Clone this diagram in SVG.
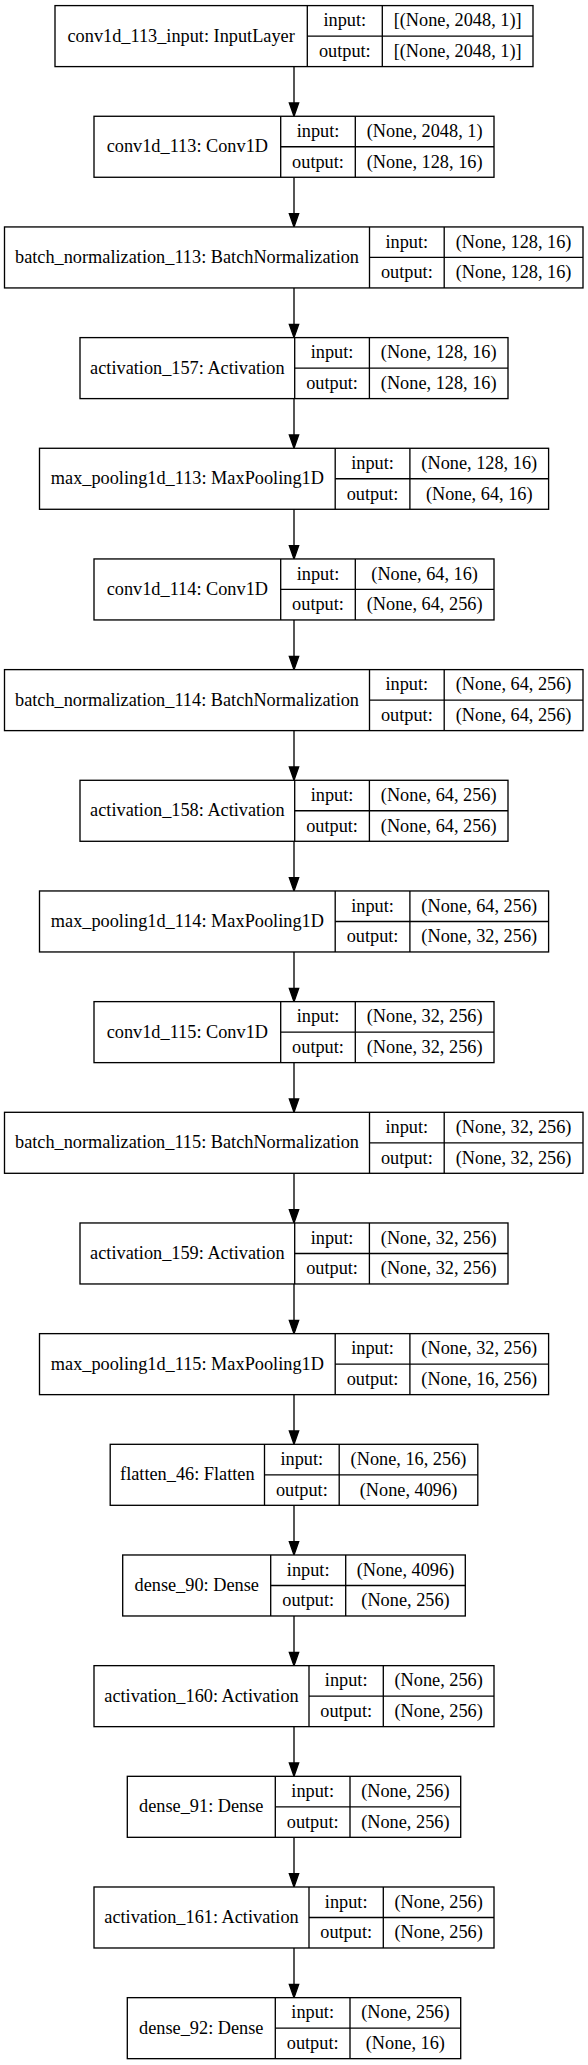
<svg xmlns="http://www.w3.org/2000/svg" width="588" height="2065" viewBox="0 0 588 2065" font-family="Liberation Serif, Times New Roman, serif">
<style>
rect.b{fill:#fff;stroke:#000;stroke-width:1.33}
line.s{stroke:#000;stroke-width:1.33}
text{font-family:'Liberation Serif','Times New Roman',serif;font-size:18.3px;fill:#000;text-anchor:middle}
.e line{stroke:#000;stroke-width:1.33}
.e polygon{fill:#000;stroke:#000;stroke-width:1.33}
</style>
<rect width="588" height="2065" fill="#fff"/>
<g id="edges" class="e">
<line x1="294" y1="66.6" x2="294" y2="102.97"/><polygon points="289.33,102.97 298.67,102.97 294,116.27"/>
<line x1="294" y1="177.27" x2="294" y2="213.64"/><polygon points="289.33,213.64 298.67,213.64 294,226.94"/>
<line x1="294" y1="287.94" x2="294" y2="324.31"/><polygon points="289.33,324.31 298.67,324.31 294,337.61"/>
<line x1="294" y1="398.61" x2="294" y2="434.98"/><polygon points="289.33,434.98 298.67,434.98 294,448.28"/>
<line x1="294" y1="509.28" x2="294" y2="545.65"/><polygon points="289.33,545.65 298.67,545.65 294,558.95"/>
<line x1="294" y1="619.95" x2="294" y2="656.32"/><polygon points="289.33,656.32 298.67,656.32 294,669.62"/>
<line x1="294" y1="730.62" x2="294" y2="766.99"/><polygon points="289.33,766.99 298.67,766.99 294,780.29"/>
<line x1="294" y1="841.29" x2="294" y2="877.66"/><polygon points="289.33,877.66 298.67,877.66 294,890.96"/>
<line x1="294" y1="951.96" x2="294" y2="988.33"/><polygon points="289.33,988.33 298.67,988.33 294,1001.63"/>
<line x1="294" y1="1062.63" x2="294" y2="1099"/><polygon points="289.33,1099 298.67,1099 294,1112.3"/>
<line x1="294" y1="1173.3" x2="294" y2="1209.67"/><polygon points="289.33,1209.67 298.67,1209.67 294,1222.97"/>
<line x1="294" y1="1283.97" x2="294" y2="1320.34"/><polygon points="289.33,1320.34 298.67,1320.34 294,1333.64"/>
<line x1="294" y1="1394.64" x2="294" y2="1431.01"/><polygon points="289.33,1431.01 298.67,1431.01 294,1444.31"/>
<line x1="294" y1="1505.31" x2="294" y2="1541.68"/><polygon points="289.33,1541.68 298.67,1541.68 294,1554.98"/>
<line x1="294" y1="1615.98" x2="294" y2="1652.35"/><polygon points="289.33,1652.35 298.67,1652.35 294,1665.65"/>
<line x1="294" y1="1726.65" x2="294" y2="1763.02"/><polygon points="289.33,1763.02 298.67,1763.02 294,1776.32"/>
<line x1="294" y1="1837.32" x2="294" y2="1873.69"/><polygon points="289.33,1873.69 298.67,1873.69 294,1886.99"/>
<line x1="294" y1="1947.99" x2="294" y2="1984.36"/><polygon points="289.33,1984.36 298.67,1984.36 294,1997.66"/>
</g>
<g id="n0" transform="translate(0,5.6)">
<rect class="b" x="55" y="0" width="478" height="61"/>
<line class="s" x1="307.3" y1="0" x2="307.3" y2="61"/><line class="s" x1="382.3" y1="0" x2="382.3" y2="61"/><line class="s" x1="307.3" y1="30.5" x2="533" y2="30.5"/>
<text x="181.15" y="36">conv1d_113_input: InputLayer</text>
<text x="344.8" y="20.8">input:</text><text x="344.8" y="51.3">output:</text>
<text x="457.65" y="20.8">[(None, 2048, 1)]</text><text x="457.65" y="51.3">[(None, 2048, 1)]</text>
</g>
<g id="n1" transform="translate(0,116.27)">
<rect class="b" x="94" y="0" width="400" height="61"/>
<line class="s" x1="280.7" y1="0" x2="280.7" y2="61"/><line class="s" x1="355.3" y1="0" x2="355.3" y2="61"/><line class="s" x1="280.7" y1="30.5" x2="494" y2="30.5"/>
<text x="187.35" y="36">conv1d_113: Conv1D</text>
<text x="318" y="20.8">input:</text><text x="318" y="51.3">output:</text>
<text x="424.65" y="20.8">(None, 2048, 1)</text><text x="424.65" y="51.3">(None, 128, 16)</text>
</g>
<g id="n2" transform="translate(0,226.94)">
<rect class="b" x="4.5" y="0" width="578.5" height="61"/>
<line class="s" x1="369.5" y1="0" x2="369.5" y2="61"/><line class="s" x1="444.2" y1="0" x2="444.2" y2="61"/><line class="s" x1="369.5" y1="30.5" x2="583" y2="30.5"/>
<text x="187" y="36">batch_normalization_113: BatchNormalization</text>
<text x="406.85" y="20.8">input:</text><text x="406.85" y="51.3">output:</text>
<text x="513.6" y="20.8">(None, 128, 16)</text><text x="513.6" y="51.3">(None, 128, 16)</text>
</g>
<g id="n3" transform="translate(0,337.61)">
<rect class="b" x="80" y="0" width="428" height="61"/>
<line class="s" x1="294.7" y1="0" x2="294.7" y2="61"/><line class="s" x1="369.4" y1="0" x2="369.4" y2="61"/><line class="s" x1="294.7" y1="30.5" x2="508" y2="30.5"/>
<text x="187.35" y="36">activation_157: Activation</text>
<text x="332.05" y="20.8">input:</text><text x="332.05" y="51.3">output:</text>
<text x="438.7" y="20.8">(None, 128, 16)</text><text x="438.7" y="51.3">(None, 128, 16)</text>
</g>
<g id="n4" transform="translate(0,448.28)">
<rect class="b" x="39.5" y="0" width="509.1" height="61"/>
<line class="s" x1="335.2" y1="0" x2="335.2" y2="61"/><line class="s" x1="409.9" y1="0" x2="409.9" y2="61"/><line class="s" x1="335.2" y1="30.5" x2="548.6" y2="30.5"/>
<text x="187.35" y="36">max_pooling1d_113: MaxPooling1D</text>
<text x="372.55" y="20.8">input:</text><text x="372.55" y="51.3">output:</text>
<text x="479.25" y="20.8">(None, 128, 16)</text><text x="479.25" y="51.3">(None, 64, 16)</text>
</g>
<g id="n5" transform="translate(0,558.95)">
<rect class="b" x="94" y="0" width="400" height="61"/>
<line class="s" x1="280.7" y1="0" x2="280.7" y2="61"/><line class="s" x1="355.3" y1="0" x2="355.3" y2="61"/><line class="s" x1="280.7" y1="30.5" x2="494" y2="30.5"/>
<text x="187.35" y="36">conv1d_114: Conv1D</text>
<text x="318" y="20.8">input:</text><text x="318" y="51.3">output:</text>
<text x="424.65" y="20.8">(None, 64, 16)</text><text x="424.65" y="51.3">(None, 64, 256)</text>
</g>
<g id="n6" transform="translate(0,669.62)">
<rect class="b" x="4.5" y="0" width="578.5" height="61"/>
<line class="s" x1="369.5" y1="0" x2="369.5" y2="61"/><line class="s" x1="444.2" y1="0" x2="444.2" y2="61"/><line class="s" x1="369.5" y1="30.5" x2="583" y2="30.5"/>
<text x="187" y="36">batch_normalization_114: BatchNormalization</text>
<text x="406.85" y="20.8">input:</text><text x="406.85" y="51.3">output:</text>
<text x="513.6" y="20.8">(None, 64, 256)</text><text x="513.6" y="51.3">(None, 64, 256)</text>
</g>
<g id="n7" transform="translate(0,780.29)">
<rect class="b" x="80" y="0" width="428" height="61"/>
<line class="s" x1="294.7" y1="0" x2="294.7" y2="61"/><line class="s" x1="369.4" y1="0" x2="369.4" y2="61"/><line class="s" x1="294.7" y1="30.5" x2="508" y2="30.5"/>
<text x="187.35" y="36">activation_158: Activation</text>
<text x="332.05" y="20.8">input:</text><text x="332.05" y="51.3">output:</text>
<text x="438.7" y="20.8">(None, 64, 256)</text><text x="438.7" y="51.3">(None, 64, 256)</text>
</g>
<g id="n8" transform="translate(0,890.96)">
<rect class="b" x="39.5" y="0" width="509.1" height="61"/>
<line class="s" x1="335.2" y1="0" x2="335.2" y2="61"/><line class="s" x1="409.9" y1="0" x2="409.9" y2="61"/><line class="s" x1="335.2" y1="30.5" x2="548.6" y2="30.5"/>
<text x="187.35" y="36">max_pooling1d_114: MaxPooling1D</text>
<text x="372.55" y="20.8">input:</text><text x="372.55" y="51.3">output:</text>
<text x="479.25" y="20.8">(None, 64, 256)</text><text x="479.25" y="51.3">(None, 32, 256)</text>
</g>
<g id="n9" transform="translate(0,1001.63)">
<rect class="b" x="94" y="0" width="400" height="61"/>
<line class="s" x1="280.7" y1="0" x2="280.7" y2="61"/><line class="s" x1="355.3" y1="0" x2="355.3" y2="61"/><line class="s" x1="280.7" y1="30.5" x2="494" y2="30.5"/>
<text x="187.35" y="36">conv1d_115: Conv1D</text>
<text x="318" y="20.8">input:</text><text x="318" y="51.3">output:</text>
<text x="424.65" y="20.8">(None, 32, 256)</text><text x="424.65" y="51.3">(None, 32, 256)</text>
</g>
<g id="n10" transform="translate(0,1112.3)">
<rect class="b" x="4.5" y="0" width="578.5" height="61"/>
<line class="s" x1="369.5" y1="0" x2="369.5" y2="61"/><line class="s" x1="444.2" y1="0" x2="444.2" y2="61"/><line class="s" x1="369.5" y1="30.5" x2="583" y2="30.5"/>
<text x="187" y="36">batch_normalization_115: BatchNormalization</text>
<text x="406.85" y="20.8">input:</text><text x="406.85" y="51.3">output:</text>
<text x="513.6" y="20.8">(None, 32, 256)</text><text x="513.6" y="51.3">(None, 32, 256)</text>
</g>
<g id="n11" transform="translate(0,1222.97)">
<rect class="b" x="80" y="0" width="428" height="61"/>
<line class="s" x1="294.7" y1="0" x2="294.7" y2="61"/><line class="s" x1="369.4" y1="0" x2="369.4" y2="61"/><line class="s" x1="294.7" y1="30.5" x2="508" y2="30.5"/>
<text x="187.35" y="36">activation_159: Activation</text>
<text x="332.05" y="20.8">input:</text><text x="332.05" y="51.3">output:</text>
<text x="438.7" y="20.8">(None, 32, 256)</text><text x="438.7" y="51.3">(None, 32, 256)</text>
</g>
<g id="n12" transform="translate(0,1333.64)">
<rect class="b" x="39.5" y="0" width="509.1" height="61"/>
<line class="s" x1="335.2" y1="0" x2="335.2" y2="61"/><line class="s" x1="409.9" y1="0" x2="409.9" y2="61"/><line class="s" x1="335.2" y1="30.5" x2="548.6" y2="30.5"/>
<text x="187.35" y="36">max_pooling1d_115: MaxPooling1D</text>
<text x="372.55" y="20.8">input:</text><text x="372.55" y="51.3">output:</text>
<text x="479.25" y="20.8">(None, 32, 256)</text><text x="479.25" y="51.3">(None, 16, 256)</text>
</g>
<g id="n13" transform="translate(0,1444.31)">
<rect class="b" x="110.2" y="0" width="367.6" height="61"/>
<line class="s" x1="264.5" y1="0" x2="264.5" y2="61"/><line class="s" x1="339.2" y1="0" x2="339.2" y2="61"/><line class="s" x1="264.5" y1="30.5" x2="477.8" y2="30.5"/>
<text x="187.35" y="36">flatten_46: Flatten</text>
<text x="301.85" y="20.8">input:</text><text x="301.85" y="51.3">output:</text>
<text x="408.5" y="20.8">(None, 16, 256)</text><text x="408.5" y="51.3">(None, 4096)</text>
</g>
<g id="n14" transform="translate(0,1554.98)">
<rect class="b" x="122.7" y="0" width="342.6" height="61"/>
<line class="s" x1="270.7" y1="0" x2="270.7" y2="61"/><line class="s" x1="345.7" y1="0" x2="345.7" y2="61"/><line class="s" x1="270.7" y1="30.5" x2="465.3" y2="30.5"/>
<text x="196.7" y="36">dense_90: Dense</text>
<text x="308.2" y="20.8">input:</text><text x="308.2" y="51.3">output:</text>
<text x="405.5" y="20.8">(None, 4096)</text><text x="405.5" y="51.3">(None, 256)</text>
</g>
<g id="n15" transform="translate(0,1665.65)">
<rect class="b" x="94" y="0" width="400" height="61"/>
<line class="s" x1="309" y1="0" x2="309" y2="61"/><line class="s" x1="383.3" y1="0" x2="383.3" y2="61"/><line class="s" x1="309" y1="30.5" x2="494" y2="30.5"/>
<text x="201.5" y="36">activation_160: Activation</text>
<text x="346.15" y="20.8">input:</text><text x="346.15" y="51.3">output:</text>
<text x="438.65" y="20.8">(None, 256)</text><text x="438.65" y="51.3">(None, 256)</text>
</g>
<g id="n16" transform="translate(0,1776.32)">
<rect class="b" x="127.3" y="0" width="333.4" height="61"/>
<line class="s" x1="275.3" y1="0" x2="275.3" y2="61"/><line class="s" x1="350" y1="0" x2="350" y2="61"/><line class="s" x1="275.3" y1="30.5" x2="460.7" y2="30.5"/>
<text x="201.3" y="36">dense_91: Dense</text>
<text x="312.65" y="20.8">input:</text><text x="312.65" y="51.3">output:</text>
<text x="405.35" y="20.8">(None, 256)</text><text x="405.35" y="51.3">(None, 256)</text>
</g>
<g id="n17" transform="translate(0,1886.99)">
<rect class="b" x="94" y="0" width="400" height="61"/>
<line class="s" x1="309" y1="0" x2="309" y2="61"/><line class="s" x1="383.3" y1="0" x2="383.3" y2="61"/><line class="s" x1="309" y1="30.5" x2="494" y2="30.5"/>
<text x="201.5" y="36">activation_161: Activation</text>
<text x="346.15" y="20.8">input:</text><text x="346.15" y="51.3">output:</text>
<text x="438.65" y="20.8">(None, 256)</text><text x="438.65" y="51.3">(None, 256)</text>
</g>
<g id="n18" transform="translate(0,1997.66)">
<rect class="b" x="127.3" y="0" width="333.4" height="61"/>
<line class="s" x1="275.3" y1="0" x2="275.3" y2="61"/><line class="s" x1="350" y1="0" x2="350" y2="61"/><line class="s" x1="275.3" y1="30.5" x2="460.7" y2="30.5"/>
<text x="201.3" y="36">dense_92: Dense</text>
<text x="312.65" y="20.8">input:</text><text x="312.65" y="51.3">output:</text>
<text x="405.35" y="20.8">(None, 256)</text><text x="405.35" y="51.3">(None, 16)</text>
</g>
</svg>
